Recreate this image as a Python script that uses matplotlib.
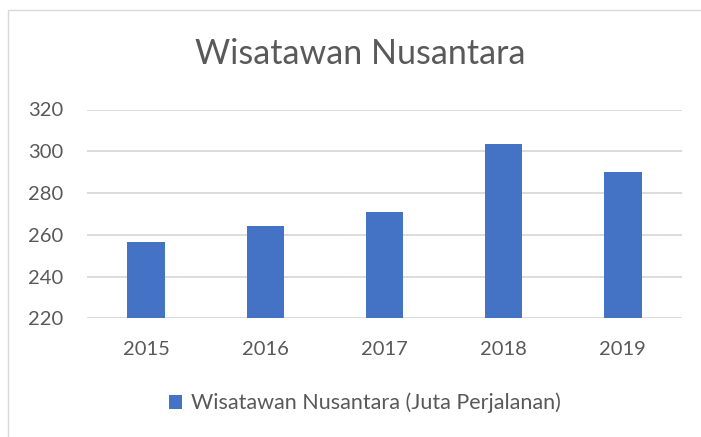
import matplotlib.pyplot as plt
from matplotlib.patches import Rectangle

years = ["2015", "2016", "2017", "2018", "2019"]
wisnus = [256.4, 264.3, 270.7, 303.5, 290.0]
y_ticks = [220, 240, 260, 280, 300, 320]
series_name = "Wisatawan Nusantara (Juta Perjalanan)"
title = "Wisatawan Nusantara"

plt.rcParams['font.family'] = ['Lato', 'DejaVu Sans']
text_col = "#595959"
bar_col = "#4472C4"

W, H = 701, 437
fig = plt.figure(figsize=(W / 100, H / 100), dpi=100)
fig.patch.set_facecolor("white")

# chart frame
fig.patches.append(Rectangle((8 / W, -0.01), 1.0, 1 - 10 / H + 0.01,
                             transform=fig.transFigure, fill=False,
                             edgecolor="#d9d9d9", linewidth=1.0))

ax = fig.add_axes([86.7 / W, 1 - 318.3 / H, (682.3 - 86.7) / W, (318.3 - 109.5) / H])
x = range(len(years))
ax.bar(x, wisnus, width=0.316, color=bar_col, label=series_name, zorder=3)
ax.set_xlim(-0.5, len(years) - 0.5)
ax.set_ylim(y_ticks[0], y_ticks[-1])
ax.set_yticks(y_ticks)
ax.set_xticks(list(x))
ax.set_xticklabels(years)
ax.grid(axis="y", color="#d9d9d9", linewidth=1.3, zorder=0)
for s in ax.spines.values():
    s.set_visible(False)
ax.tick_params(length=0, labelsize=14.5, colors=text_col)
ax.tick_params(axis="y", pad=17)
ax.tick_params(axis="x", pad=16)

fig.text(360 / W, 1 - 54 / H, title, ha="center", va="center",
         fontsize=24.5, color=text_col)

leg = fig.legend(loc="center", bbox_to_anchor=(365 / W, 1 - 403 / H),
                 frameon=False, fontsize=15.5, handlelength=0.6,
                 handleheight=0.6, handletextpad=0.4)
for t in leg.get_texts():
    t.set_color(text_col)

fig.savefig("out.png", dpi=100)
